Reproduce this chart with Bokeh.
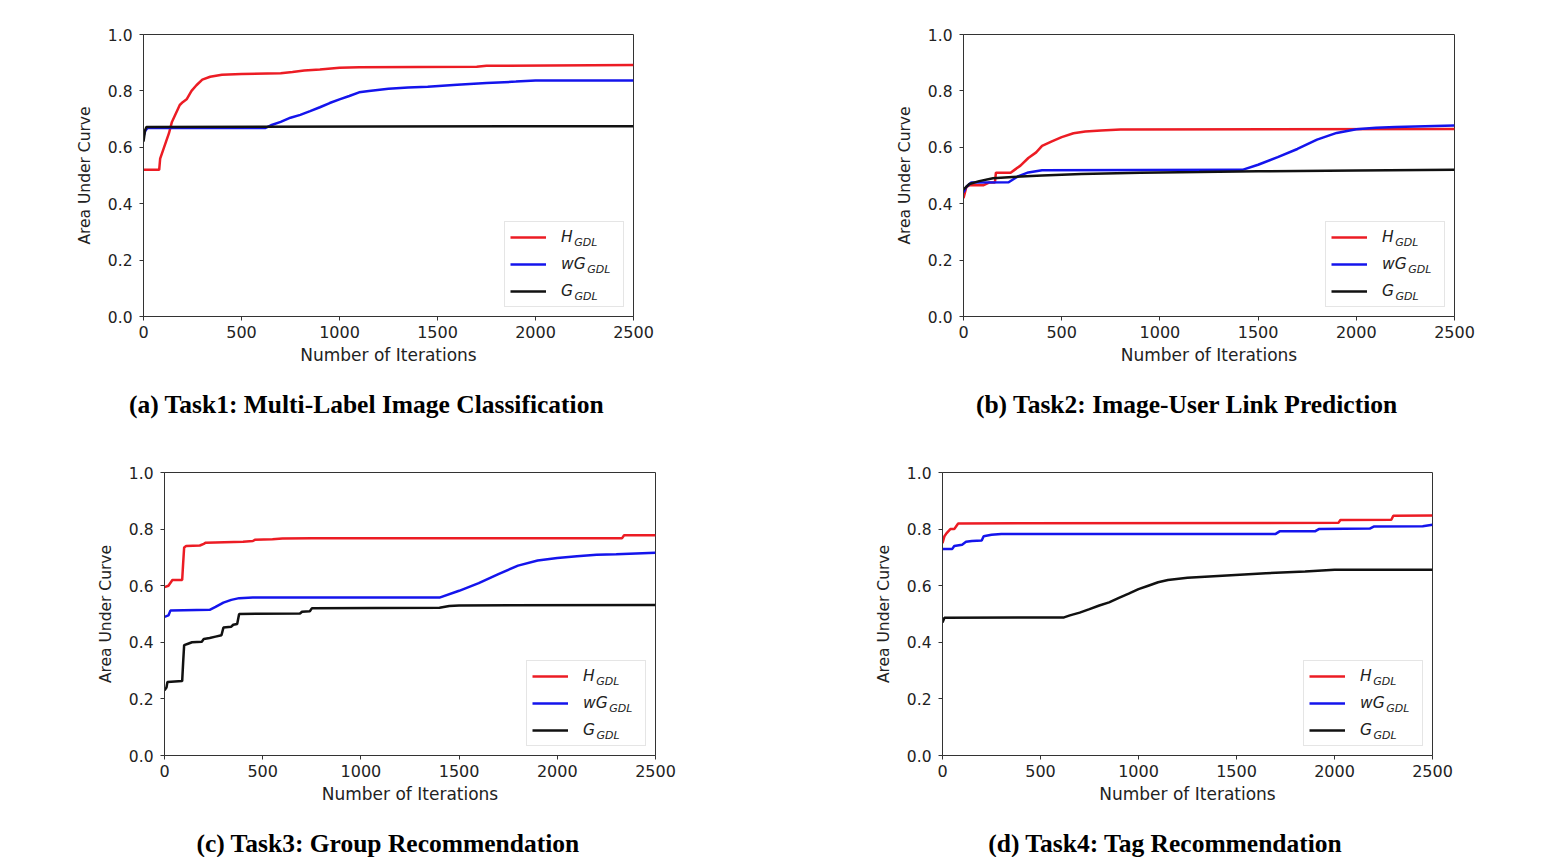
from bokeh.plotting import figure
from bokeh.models import (Range1d, FixedTicker, NumeralTickFormatter, Legend,
                          LegendItem, Label)
from bokeh.layouts import row, column
from bokeh.embed import file_html
from bokeh.resources import INLINE

# ---------------- data ----------------
x_ticks = [0, 500, 1000, 1500, 2000, 2500]
y_ticks = [0.0, 0.2, 0.4, 0.6, 0.8, 1.0]
series_main = ["H", "wG", "G"]
series_sub = "GDL"
x_label = "Number of Iterations"
y_label = "Area Under Curve"
captions = [
    "(a) Task1: Multi-Label Image Classification",
    "(b) Task2: Image-User Link Prediction",
    "(c) Task3: Group Recommendation",
    "(d) Task4: Tag Recommendation",
]

# Task1
t1_H_x = [0, 80, 85, 100, 115, 130, 145, 165, 185, 200, 220, 245, 270, 300, 340, 400, 500, 700, 760, 820, 900, 1000, 1100, 1700, 1750, 2500]
t1_H_y = [0.52, 0.52, 0.56, 0.59, 0.62, 0.65, 0.69, 0.72, 0.75, 0.76, 0.77, 0.80, 0.82, 0.84, 0.85, 0.857, 0.86, 0.863, 0.867, 0.872, 0.876, 0.882, 0.884, 0.886, 0.889, 0.892]
t1_wG_x = [0, 10, 20, 620, 650, 700, 750, 800, 850, 900, 950, 1000, 1050, 1100, 1150, 1250, 1350, 1450, 1600, 1750, 1900, 2000, 2500]
t1_wG_y = [0.64, 0.66, 0.668, 0.668, 0.678, 0.69, 0.705, 0.715, 0.728, 0.742, 0.757, 0.77, 0.782, 0.795, 0.80, 0.808, 0.812, 0.815, 0.822, 0.828, 0.833, 0.837, 0.837]
t1_G_x = [0, 8, 15, 2500]
t1_G_y = [0.62, 0.66, 0.672, 0.675]

# Task2
t2_H_x = [0, 15, 30, 100, 130, 160, 165, 240, 260, 290, 330, 370, 400, 450, 500, 560, 620, 700, 800, 2500]
t2_H_y = [0.42, 0.46, 0.465, 0.465, 0.475, 0.475, 0.51, 0.51, 0.52, 0.535, 0.562, 0.582, 0.605, 0.621, 0.636, 0.65, 0.656, 0.66, 0.663, 0.665]
t2_wG_x = [0, 15, 40, 230, 250, 280, 330, 400, 1420, 1500, 1600, 1700, 1800, 1900, 2000, 2100, 2200, 2300, 2500]
t2_wG_y = [0.44, 0.46, 0.475, 0.476, 0.485, 0.498, 0.511, 0.519, 0.52, 0.538, 0.565, 0.594, 0.627, 0.651, 0.664, 0.669, 0.672, 0.674, 0.677]
t2_G_x = [0, 30, 80, 150, 250, 400, 600, 900, 1200, 1500, 2000, 2500]
t2_G_y = [0.45, 0.47, 0.48, 0.49, 0.495, 0.50, 0.505, 0.51, 0.512, 0.515, 0.518, 0.52]

# Task3
t3_H_x = [0, 20, 35, 40, 90, 95, 100, 110, 180, 200, 210, 400, 450, 460, 550, 600, 750, 2330, 2340, 2500]
t3_H_y = [0.595, 0.60, 0.615, 0.62, 0.62, 0.68, 0.735, 0.74, 0.742, 0.748, 0.752, 0.755, 0.758, 0.762, 0.764, 0.767, 0.768, 0.768, 0.778, 0.778]
t3_wG_x = [0, 20, 30, 230, 260, 300, 340, 380, 450, 1400, 1500, 1600, 1700, 1800, 1900, 2000, 2100, 2200, 2300, 2500]
t3_wG_y = [0.49, 0.495, 0.512, 0.515, 0.525, 0.54, 0.55, 0.556, 0.558, 0.558, 0.582, 0.609, 0.641, 0.671, 0.689, 0.698, 0.704, 0.709, 0.711, 0.716]
t3_G_x = [0, 10, 15, 90, 95, 100, 120, 140, 190, 200, 230, 260, 290, 300, 340, 350, 370, 380, 690, 700, 740, 750, 1400, 1450, 1500, 2500]
t3_G_y = [0.23, 0.24, 0.26, 0.263, 0.33, 0.39, 0.395, 0.40, 0.402, 0.412, 0.415, 0.42, 0.425, 0.452, 0.455, 0.462, 0.465, 0.50, 0.502, 0.508, 0.51, 0.52, 0.522, 0.528, 0.53, 0.532]

# Task4
t4_H_x = [0, 10, 20, 40, 60, 70, 80, 2020, 2030, 2290, 2300, 2500]
t4_H_y = [0.75, 0.775, 0.785, 0.80, 0.80, 0.81, 0.82, 0.822, 0.832, 0.833, 0.847, 0.848]
t4_wG_x = [0, 50, 60, 100, 120, 150, 200, 210, 250, 300, 1700, 1720, 1900, 1920, 2180, 2200, 2450, 2500]
t4_wG_y = [0.73, 0.73, 0.74, 0.745, 0.755, 0.758, 0.76, 0.775, 0.78, 0.783, 0.783, 0.792, 0.792, 0.80, 0.802, 0.809, 0.81, 0.815]
t4_G_x = [0, 10, 620, 650, 700, 750, 800, 850, 900, 950, 1000, 1050, 1100, 1150, 1250, 1450, 1650, 1850, 2000, 2500]
t4_G_y = [0.47, 0.487, 0.488, 0.495, 0.505, 0.517, 0.53, 0.541, 0.557, 0.572, 0.588, 0.60, 0.612, 0.62, 0.628, 0.636, 0.644, 0.65, 0.656, 0.656]

tasks = [
    [(t1_H_x, t1_H_y), (t1_wG_x, t1_wG_y), (t1_G_x, t1_G_y)],
    [(t2_H_x, t2_H_y), (t2_wG_x, t2_wG_y), (t2_G_x, t2_G_y)],
    [(t3_H_x, t3_H_y), (t3_wG_x, t3_wG_y), (t3_G_x, t3_G_y)],
    [(t4_H_x, t4_H_y), (t4_wG_x, t4_wG_y), (t4_G_x, t4_G_y)],
]

# ---------------- style ----------------
colors = ["#ec1c24", "#1414ec", "#111111"]
FONT = "DejaVu Sans"
AX = "#333333"
TXT = "#222222"

# chart panels: (width, height, left, right, top, bottom)
geoms = [
    (770, 380, 143, 137, 34, 64),
    (771, 380, 193, 87, 34, 64),
    (770, 378, 164, 115, 34, 61),
    (771, 378, 172, 109, 34, 61),
]
# caption strips: (height, caption centre from strip top)
cap_geoms = [(58, 24), (58, 24), (41, 27), (41, 27)]
CAP_DX = -22     # caption centre offset from frame centre (px)

# legend geometry
L_MARGIN, L_PAD, L_SPACING = 9, 5, 7
L_GW, L_GH, L_STAND, L_LW = 36, 20, 15, 57
L_W = 2 * L_PAD + L_GW + L_STAND + L_LW
L_H = 2 * L_PAD + 3 * L_GH + 2 * L_SPACING
MAIN_FS, SUB_FS = 15.5, 11
# DejaVu Sans advance widths (em)
ADV = {"H": 0.752, "w": 0.818, "G": 0.775}


def make_panel(i):
    w, h, bl, br, bt, bb = geoms[i]
    fw, fh = w - bl - br, h - bt - bb
    p = figure(width=w, height=h, min_border_left=bl, min_border_right=br,
               min_border_top=bt, min_border_bottom=bb,
               x_range=Range1d(0, 2500), y_range=Range1d(0, 1),
               output_backend="svg", toolbar_location=None)
    p.grid.visible = False
    p.outline_line_color = AX
    p.outline_line_alpha = 1
    p.background_fill_color = "white"
    p.border_fill_color = "white"

    for ax in (p.xaxis[0], p.yaxis[0]):
        ax.axis_line_color = AX
        ax.major_tick_line_color = AX
        ax.minor_tick_line_color = None
        ax.major_tick_out = 4
        ax.major_tick_in = 0
        ax.major_label_text_font = FONT
        ax.major_label_text_color = TXT
        ax.axis_label_text_font = FONT
        ax.axis_label_text_font_style = "normal"
        ax.axis_label_text_color = TXT
    p.xaxis.major_label_text_font_size = "16px"
    p.yaxis.major_label_text_font_size = "15.5px"
    p.xaxis.axis_label_text_font_size = "17px"
    p.yaxis.axis_label_text_font_size = "15.5px"
    p.xaxis.ticker = FixedTicker(ticks=x_ticks)
    p.yaxis.ticker = FixedTicker(ticks=y_ticks)
    p.yaxis.formatter = NumeralTickFormatter(format="0.0")
    p.xaxis.axis_label = x_label
    p.yaxis.axis_label = y_label
    p.xaxis.major_label_standoff = 5
    p.yaxis.major_label_standoff = 7
    p.xaxis.axis_label_standoff = 4
    p.yaxis.axis_label_standoff = 11

    items = []
    for k, (xs, ys) in enumerate(tasks[i]):
        r = p.line(xs, ys, line_color=colors[k], line_width=2.5)
        items.append(LegendItem(label=series_main[k], renderers=[r]))
    legend = Legend(items=items, location="bottom_right", margin=L_MARGIN,
                    padding=L_PAD, spacing=L_SPACING, glyph_width=L_GW,
                    glyph_height=L_GH, label_height=L_GH, label_width=L_LW,
                    label_standoff=L_STAND, label_text_font=FONT,
                    label_text_font_style="italic",
                    label_text_font_size=f"{MAIN_FS}px", label_text_color=TXT,
                    border_line_color="#cccccc", border_line_width=1,
                    background_fill_color="white", background_fill_alpha=0.0)
    p.add_layout(legend)

    # subscripts "GDL" next to each legend label
    box_left = fw - L_MARGIN - L_W
    box_top = L_MARGIN + L_H
    text_x = box_left + L_PAD + L_GW + L_STAND
    for k, name in enumerate(series_main):
        cy = box_top - L_PAD - L_GH / 2 - k * (L_GH + L_SPACING)
        adv = sum(ADV[c] for c in name) * MAIN_FS
        sx = text_x + adv
        sy = cy - 4
        p.add_layout(Label(x=sx / fw * 2500, y=sy / fh, text=series_sub,
                           text_font=FONT, text_font_style="italic",
                           text_font_size=f"{SUB_FS}px", text_color=TXT,
                           text_baseline="middle", text_align="left",
                           level="overlay"))
    return p


def make_caption(i):
    w, h, bl, br, bt, bb = geoms[i]
    fw = w - bl - br
    ch, cdy = cap_geoms[i]
    c = figure(width=w, height=ch, title=None, x_axis_type=None,
               y_axis_type=None, x_range=Range1d(0, 1), y_range=Range1d(0, 1),
               min_border=0, output_backend="svg", toolbar_location=None)
    c.grid.visible = False
    c.outline_line_color = None
    c.background_fill_color = "white"
    c.border_fill_color = "white"
    c.add_layout(Label(x=(bl + fw / 2 + CAP_DX) / w, y=1 - cdy / ch,
                       text=captions[i], text_align="center",
                       text_baseline="middle", text_font="Liberation Serif",
                       text_font_style="bold", text_font_size="25.5px",
                       text_color="black"))
    return c


panels = [make_panel(i) for i in range(4)]
caps = [make_caption(i) for i in range(4)]
layout = column(row(panels[0], panels[1]), row(caps[0], caps[1]),
                row(panels[2], panels[3]), row(caps[2], caps[3]))

open("out.html", "w").write(file_html(layout, INLINE))
